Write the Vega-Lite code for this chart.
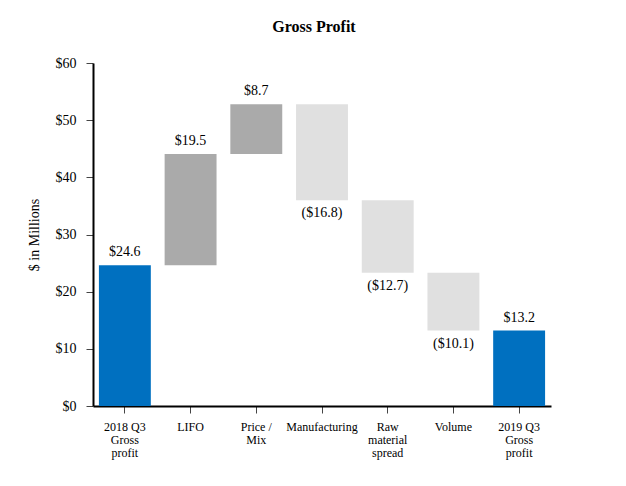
{
  "$schema": "https://vega.github.io/schema/vega-lite/v6.json",
  "width": 458,
  "height": 343,
  "autosize": {"type": "none"},
  "padding": {"left": 93, "top": 63, "right": 75, "bottom": 80},
  "background": "white",
  "title": {"text": "Gross Profit", "font": "Liberation Serif", "fontSize": 16, "fontWeight": "bold", "color": "black", "offset": 21, "dx": -8},
  "config": {"view": {"stroke": null}, "font": "Liberation Serif"},
  "data": {"values": [
    {"category": "2018 Q3 Gross profit", "start": 0, "end": 24.6, "kind": "total", "label": "$24.6", "sign": "up"},
    {"category": "LIFO", "start": 24.6, "end": 44.1, "kind": "increase", "label": "$19.5", "sign": "up"},
    {"category": "Price / Mix", "start": 44.1, "end": 52.8, "kind": "increase", "label": "$8.7", "sign": "up"},
    {"category": "Manufacturing", "start": 52.8, "end": 36.0, "kind": "decrease", "label": "($16.8)", "sign": "down"},
    {"category": "Raw material spread", "start": 36.0, "end": 23.3, "kind": "decrease", "label": "($12.7)", "sign": "down"},
    {"category": "Volume", "start": 23.3, "end": 13.2, "kind": "decrease", "label": "($10.1)", "sign": "down"},
    {"category": "2019 Q3 Gross profit", "start": 0, "end": 13.2, "kind": "total", "label": "$13.2", "sign": "up"}
  ]},
  "encoding": {
    "x": {
      "field": "category", "type": "nominal", "sort": null,
      "scale": {"paddingInner": 0.21, "paddingOuter": 0.09},
      "axis": {
        "title": null, "labelAngle": 0,
        "labelExpr": "datum.value == '2018 Q3 Gross profit' ? ['2018 Q3', 'Gross', 'profit'] : datum.value == '2019 Q3 Gross profit' ? ['2019 Q3', 'Gross', 'profit'] : datum.value == 'Price / Mix' ? ['Price /', 'Mix'] : datum.value == 'Raw material spread' ? ['Raw', 'material', 'spread'] : datum.value",
        "labelFont": "Liberation Serif", "labelFontSize": 12, "labelColor": "black",
        "labelLineHeight": 13, "labelPadding": 8,
        "tickSize": 7, "tickColor": "#444", "domainColor": "black", "domainWidth": 2,
        "labelAlign": "center", "labelBaseline": "top"
      }
    }
  },
  "layer": [
    {
      "mark": {"type": "bar"},
      "encoding": {
        "y": {
          "field": "start", "type": "quantitative",
          "scale": {"domain": [0, 60]},
          "axis": {
            "title": "$ in Millions", "titleFont": "Liberation Serif", "titleFontSize": 14, "titleFontWeight": "normal", "titleColor": "black", "titlePadding": 14,
            "values": [0, 10, 20, 30, 40, 50, 60],
            "labelExpr": "'$' + datum.value",
            "labelFont": "Liberation Serif", "labelFontSize": 14, "labelColor": "black", "labelPadding": 10,
            "grid": false, "tickSize": 7, "tickColor": "#444", "domainColor": "black", "domainWidth": 2
          }
        },
        "y2": {"field": "end"},
        "color": {
          "field": "kind", "type": "nominal",
          "scale": {"domain": ["total", "increase", "decrease"], "range": ["#0070C0", "#AAAAAA", "#E0E0E0"]},
          "legend": null
        }
      }
    },
    {
      "transform": [{"filter": "datum.sign == 'up'"}],
      "mark": {"type": "text", "baseline": "bottom", "dy": -6, "fontSize": 14, "font": "Liberation Serif", "color": "black"},
      "encoding": {
        "y": {"field": "end", "type": "quantitative"},
        "text": {"field": "label"}
      }
    },
    {
      "transform": [{"filter": "datum.sign == 'down'"}],
      "mark": {"type": "text", "baseline": "top", "dy": 6, "fontSize": 14, "font": "Liberation Serif", "color": "black"},
      "encoding": {
        "y": {"field": "end", "type": "quantitative"},
        "text": {"field": "label"}
      }
    }
  ]
}
